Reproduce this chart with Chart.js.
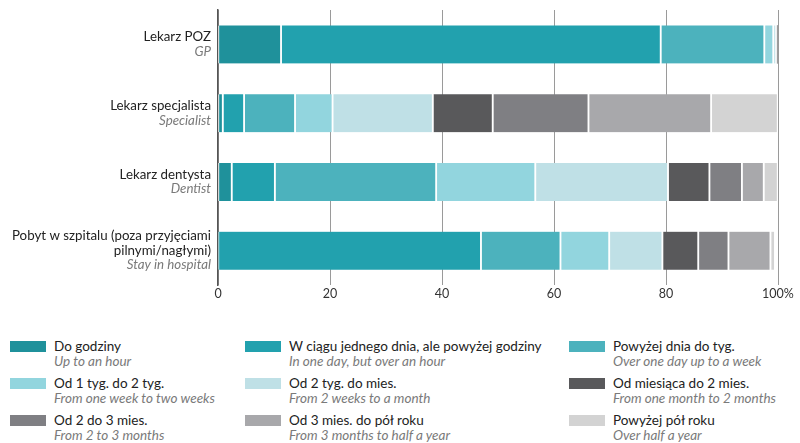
<!DOCTYPE html>
<html>
<head>
<meta charset="utf-8">
<script src="https://cdn.jsdelivr.net/npm/chart.js@4/dist/chart.umd.min.js"></script>
<style>
  body { margin: 0; background: #fff; }
  #wrap { position: relative; width: 800px; height: 443px; font-family: Lato, "Noto Sans", sans-serif; }
  #chartBox { position: absolute; left: 0; top: 0; width: 800px; height: 302px; }
  #legend { position: absolute; left: 10px; top: 339px; display: grid; grid-template-columns: 235px 324px 220px; row-gap: 7px; }
  .item { display: flex; align-items: flex-start; }
  .sw { width: 36px; height: 11px; margin-top: 2px; margin-right: 8px; flex: none; }
  .pl { font-size: 13.5px; line-height: 15px; color: #222; white-space: nowrap; }
  .en { font-size: 13.5px; line-height: 15px; color: #7a7a7a; font-style: italic; white-space: nowrap; }
</style>
</head>
<body>
<div id="wrap">
  <div id="chartBox"><canvas id="chart"></canvas></div>
  <div id="legend"></div>
</div>
<script>
// categories (Polish lines + English line)
const categoryLinesPl = [
  ['Lekarz POZ'],
  ['Lekarz specjalista'],
  ['Lekarz dentysta'],
  ['Pobyt w szpitalu (poza przyjęciami', 'pilnymi/nagłymi)']
];
const categoryEn = ['GP', 'Specialist', 'Dentist', 'Stay in hospital'];

// series names
const seriesPl = [
  'Do godziny', 'W ciągu jednego dnia, ale powyżej godziny', 'Powyżej dnia do tyg.',
  'Od 1 tyg. do 2 tyg.', 'Od 2 tyg. do mies.', 'Od miesiąca do 2 mies.',
  'Od 2 do 3 mies.', 'Od 3 mies. do pół roku', 'Powyżej pół roku'
];
const seriesEn = [
  'Up to an hour', 'In one day, but over an hour', 'Over one day up to a week',
  'From one week to two weeks', 'From 2 weeks to a month', 'From one month to 2 months',
  'From 2 to 3 months', 'From 3 months  to half a year', 'Over half a year'
];
const seriesColors = ['#1f919b', '#22a1ae', '#4cb2bd', '#92d5de', '#bfe0e6', '#59595b', '#7f7f83', '#a8a8ab', '#d3d3d3'];

// values (%) per series, in category order
const doGodziny       = [11.3, 0.9, 2.5, 0];
const wCiaguDnia      = [67.8, 3.8, 7.7, 47.0];
const powyzejDnia     = [18.5, 9.1, 28.8, 14.2];
const od1do2tyg       = [1.6, 6.7, 17.7, 8.7];
const od2tygDoMies    = [0.5, 17.9, 23.7, 9.5];
const od1do2mies      = [0.3, 10.7, 7.4, 6.4];
const od2do3mies      = [0, 17.1, 5.8, 5.4];
const od3mDoPolRoku   = [0, 21.9, 3.9, 7.5];
const powyzejPolRoku  = [0, 11.9, 2.5, 0.8];

const seriesValues = [doGodziny, wCiaguDnia, powyzejDnia, od1do2tyg, od2tygDoMies,
  od1do2mies, od2do3mies, od3mDoPolRoku, powyzejPolRoku];

const xTicks = [0, 20, 40, 60, 80, 100];

const FONT = 'Lato, "Noto Sans", sans-serif';

// draws the two-style category labels left of the bars
const categoryLabels = {
  id: 'categoryLabels',
  afterDraw(chart) {
    const { ctx, scales: { y }, chartArea } = chart;
    const lh = 14.5;
    const x = chartArea.left - 7;
    ctx.save();
    ctx.textAlign = 'right';
    ctx.textBaseline = 'middle';
    categoryLinesPl.forEach((lines, i) => {
      const yc = y.getPixelForValue(i);
      const n = lines.length + 1;
      const top = yc - (n - 1) * lh / 2;
      ctx.font = '13.3px ' + FONT;
      ctx.fillStyle = '#222';
      lines.forEach((t, k) => ctx.fillText(t, x, top + k * lh));
      ctx.font = 'italic 13.3px ' + FONT;
      ctx.fillStyle = '#7a7a7a';
      ctx.fillText(categoryEn[i], x, top + lines.length * lh);
    });
    ctx.restore();
  }
};

new Chart(document.getElementById('chart'), {
  type: 'bar',
  data: {
    labels: categoryEn,
    datasets: seriesValues.map((vals, i) => ({
      label: seriesPl[i],
      data: vals,
      backgroundColor: seriesColors[i],
      borderColor: '#ffffff',
      borderWidth: { left: 1, right: 1.5, top: 0, bottom: 0 },
      borderSkipped: false,
      barThickness: 38
    }))
  },
  options: {
    indexAxis: 'y',
    animation: false,
    responsive: true,
    maintainAspectRatio: false,
    layout: { padding: { left: 210, right: 22, top: 10, bottom: 0 } },
    plugins: {
      legend: { display: false },
      tooltip: { enabled: false }
    },
    scales: {
      x: {
        stacked: true,
        min: 0,
        max: 100,
        afterBuildTicks: scale => { scale.ticks = xTicks.map(v => ({ value: v })); },
        grid: { color: '#9a9a9a', lineWidth: 1, drawTicks: false },
        border: { display: false },
        ticks: {
          padding: 1,
          color: '#333',
          font: { family: FONT, size: 12.5 },
          callback: v => v === 100 ? '100%' : String(v)
        }
      },
      y: {
        stacked: true,
        grid: { display: false },
        border: { display: true, color: '#555', width: 1.5 },
        ticks: { display: false }
      }
    }
  },
  plugins: [categoryLabels]
});

// HTML legend
const legend = document.getElementById('legend');
seriesPl.forEach((name, i) => {
  const item = document.createElement('div');
  item.className = 'item';
  item.innerHTML = '<div class="sw" style="background:' + seriesColors[i] + '"></div>' +
    '<div><div class="pl">' + name + '</div><div class="en">' + seriesEn[i] + '</div></div>';
  legend.appendChild(item);
});
</script>
</body>
</html>
